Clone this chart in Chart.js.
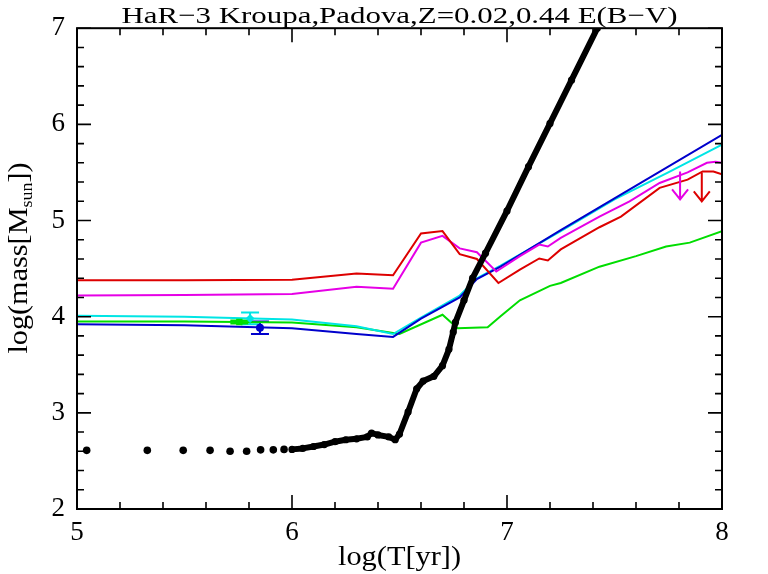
<!DOCTYPE html>
<html>
<head>
<meta charset="utf-8">
<script src="https://cdn.jsdelivr.net/npm/chart.js@4.4.1/dist/chart.umd.min.js"></script>
<style>
html,body{margin:0;padding:0;background:#fff;}
#wrap{width:768px;height:574px;position:relative;}
</style>
</head>
<body>
<div id="wrap"><canvas id="c" width="768" height="574"></canvas></div>
<script>
// ---------- data ----------
const titleText = "HaR\u22123 Kroupa,Padova,Z=0.02,0.44 E(B\u2212V)";
const xLabelText = "log(T[yr])";
const yLabelMain = "log(mass[M";
const yLabelSub = "sun";
const yLabelEnd = "])";

const xMajorTicks = [5, 6, 7, 8];
const xMinorTicks = [5.2, 5.4, 5.6, 5.8, 6.2, 6.4, 6.6, 6.8, 7.2, 7.4, 7.6, 7.8];
const yMajorTicks = [2, 3, 4, 5, 6, 7];
const yMinorTicks = [2.2, 2.4, 2.6, 2.8, 3.2, 3.4, 3.6, 3.8, 4.2, 4.4, 4.6, 4.8, 5.2, 5.4, 5.6, 5.8, 6.2, 6.4, 6.6, 6.8];

const redX = [5.0, 5.5, 6.0, 6.3, 6.47, 6.6, 6.7, 6.78, 6.86, 6.96, 7.06, 7.15, 7.19, 7.25, 7.43, 7.53, 7.71, 7.84, 7.91, 7.96, 8.0];
const redY = [4.38, 4.38, 4.385, 4.45, 4.43, 4.865, 4.89, 4.65, 4.60, 4.35, 4.49, 4.605, 4.585, 4.70, 4.93, 5.04, 5.34, 5.425, 5.51, 5.51, 5.48];

const magX = [5.0, 5.5, 6.0, 6.3, 6.47, 6.6, 6.7, 6.78, 6.86, 6.95, 7.06, 7.15, 7.19, 7.25, 7.43, 7.57, 7.71, 7.84, 7.93, 7.97, 8.0];
const magY = [4.22, 4.225, 4.235, 4.31, 4.29, 4.77, 4.84, 4.71, 4.67, 4.47, 4.63, 4.75, 4.73, 4.82, 5.04, 5.20, 5.39, 5.50, 5.60, 5.61, 5.60];

const blueX = [5.0, 5.5, 6.0, 6.3, 6.47, 6.6, 6.78, 6.86, 6.97, 7.25, 7.5, 8.0];
const blueY = [3.92, 3.91, 3.88, 3.82, 3.79, 3.98, 4.20, 4.39, 4.52, 4.90, 5.23, 5.89];

const cyanX = [5.0, 5.5, 6.0, 6.3, 6.47, 6.6, 6.78, 6.86, 6.97, 7.25, 7.5, 7.75, 8.0];
const cyanY = [4.01, 4.0, 3.97, 3.90, 3.82, 3.99, 4.22, 4.40, 4.53, 4.89, 5.22, 5.50, 5.79];

const greenX = [5.0, 5.5, 6.0, 6.3, 6.5, 6.7, 6.77, 6.91, 6.97, 7.06, 7.2, 7.25, 7.43, 7.6, 7.74, 7.85, 8.0];
const greenY = [3.95, 3.95, 3.94, 3.89, 3.82, 4.02, 3.88, 3.89, 4.005, 4.17, 4.32, 4.35, 4.52, 4.63, 4.73, 4.77, 4.89];

const sparseDotsX = [5.045, 5.327, 5.494, 5.619, 5.712, 5.789, 5.854, 5.913, 5.963];
const sparseDotsY = [2.61, 2.61, 2.61, 2.61, 2.60, 2.60, 2.615, 2.615, 2.62];

const trackX = [6.0, 6.05, 6.1, 6.15, 6.2, 6.25, 6.3, 6.35, 6.37, 6.4, 6.45, 6.48, 6.5, 6.54, 6.58, 6.61, 6.66, 6.70, 6.73, 6.75, 6.76, 6.8, 6.84, 6.9, 7.0, 7.1, 7.2, 7.3, 7.42, 7.45];
const trackY = [2.62, 2.63, 2.65, 2.67, 2.70, 2.72, 2.73, 2.75, 2.79, 2.77, 2.75, 2.72, 2.78, 3.01, 3.25, 3.33, 3.38, 3.49, 3.66, 3.84, 3.94, 4.17, 4.40, 4.66, 5.10, 5.56, 6.01, 6.46, 7.0, 7.13];

const errX = [5.851, 5.805, 5.755];
const errY = [3.885, 3.98, 3.945];
const errLo = [3.82, 3.92, 3.93];
const errHi = [3.95, 4.044, 3.96];
const errColors = ['#0000cc', '#00e5e5', '#00dd00'];
const errShapes = ['circle', 'rectRot', 'rect'];

const arrowX = [7.805, 7.906];
const arrowTop = [5.51, 5.50];
const arrowBottom = [5.22, 5.20];
const arrowColors = ['#e600e6', '#dd0000'];

// ---------- helpers ----------
function pts(xs, ys) { return xs.map((x, i) => ({x: x, y: ys[i]})); }

function lineDs(xs, ys, color, order) {
  return {type: 'line', data: pts(xs, ys), borderColor: color, backgroundColor: color,
    borderWidth: 2, pointRadius: 0, tension: 0, fill: false, order: order};
}

const datasets = [];
datasets.push({type: 'line', data: pts(trackX, trackY), borderColor: '#000', backgroundColor: '#000',
  borderWidth: 6, pointRadius: 3.6, pointBorderWidth: 0, tension: 0, borderCapStyle: 'round', borderJoinStyle: 'round', clip: 0, order: 1});
datasets.push({type: 'scatter', data: pts(sparseDotsX, sparseDotsY), borderColor: '#000', backgroundColor: '#000',
  pointRadius: 3.8, pointBorderWidth: 0, order: 1});
errX.forEach((x, i) => {
  datasets.push({type: 'scatter', data: [{x: x, y: errY[i]}], backgroundColor: errColors[i], borderColor: errColors[i],
    pointStyle: errShapes[i], pointRadius: i === 0 ? 4 : 4.5, pointBorderWidth: 0, order: 2});
});
datasets.push(lineDs(greenX, greenY, '#00dd00', 7));
datasets.push(lineDs(cyanX, cyanY, '#00e5e5', 6));
datasets.push(lineDs(blueX, blueY, '#0000cc', 5));
datasets.push(lineDs(magX, magY, '#e600e6', 4));
datasets.push(lineDs(redX, redY, '#dd0000', 3));

function stretchText(ctx, text, x, y, targetW, font, align) {
  ctx.save();
  ctx.font = font;
  const w = ctx.measureText(text).width;
  const s = targetW / w;
  ctx.translate(x, y);
  ctx.scale(s, 1);
  ctx.textAlign = align || 'center';
  ctx.textBaseline = 'alphabetic';
  ctx.fillText(text, 0, 0);
  ctx.restore();
}

const decorPlugin = {
  id: 'decor',
  beforeDatasetsDraw(chart) {
    const ctx = chart.ctx, xs = chart.scales.x, ys = chart.scales.y;
    ctx.save();
    ctx.lineWidth = 2;
    errX.forEach((x, i) => {
      const px = xs.getPixelForValue(x);
      const lo = ys.getPixelForValue(errLo[i]), hi = ys.getPixelForValue(errHi[i]);
      ctx.strokeStyle = errColors[i];
      ctx.beginPath();
      ctx.moveTo(px, lo); ctx.lineTo(px, hi);
      ctx.moveTo(px - 9, lo); ctx.lineTo(px + 9, lo);
      ctx.moveTo(px - 9, hi); ctx.lineTo(px + 9, hi);
      ctx.stroke();
    });
    ctx.restore();
  },
  afterDatasetsDraw(chart) {
    const ctx = chart.ctx, xs = chart.scales.x, ys = chart.scales.y;
    const a = chart.chartArea;
    ctx.save();
    ctx.lineWidth = 2;
    arrowX.forEach((x, i) => {
      const px = xs.getPixelForValue(x);
      const t = ys.getPixelForValue(arrowTop[i]), b = ys.getPixelForValue(arrowBottom[i]);
      ctx.strokeStyle = arrowColors[i];
      ctx.beginPath();
      ctx.moveTo(px, t); ctx.lineTo(px, b);
      ctx.moveTo(px - 8, b - 10); ctx.lineTo(px, b); ctx.lineTo(px + 8, b - 10);
      ctx.stroke();
    });
    ctx.restore();
    ctx.save();
    ctx.strokeStyle = '#000';
    ctx.lineWidth = 2;
    ctx.strokeRect(a.left, a.top, a.right - a.left, a.bottom - a.top);
    ctx.lineWidth = 1.6;
    ctx.beginPath();
    const tickX = (v, len) => {
      const p = xs.getPixelForValue(v);
      ctx.moveTo(p, a.bottom); ctx.lineTo(p, a.bottom - len);
      ctx.moveTo(p, a.top); ctx.lineTo(p, a.top + len);
    };
    const tickY = (v, len) => {
      const p = ys.getPixelForValue(v);
      ctx.moveTo(a.left, p); ctx.lineTo(a.left + len, p);
      ctx.moveTo(a.right, p); ctx.lineTo(a.right - len, p);
    };
    xMajorTicks.forEach(v => tickX(v, 14));
    xMinorTicks.forEach(v => tickX(v, 7));
    yMajorTicks.forEach(v => tickY(v, 14));
    yMinorTicks.forEach(v => tickY(v, 7));
    ctx.stroke();
    ctx.restore();
    ctx.save();
    ctx.fillStyle = '#000';
    stretchText(ctx, titleText, (a.left + a.right) / 2, 23, 556, '24px "Liberation Serif"', 'center');
    stretchText(ctx, xLabelText, (a.left + a.right) / 2, 565, 123, '27px "Liberation Serif"', 'center');
    ctx.translate(27, 258);
    ctx.rotate(-Math.PI / 2);
    const sx = 1.12;
    ctx.font = '27px "Liberation Serif"';
    const w1 = ctx.measureText(yLabelMain).width * sx;
    ctx.font = '16px "Liberation Serif"';
    const w2 = ctx.measureText(yLabelSub).width * sx;
    ctx.font = '27px "Liberation Serif"';
    const w3 = ctx.measureText(yLabelEnd).width * sx;
    const total = w1 + w2 + w3;
    let cx = -total / 2;
    ctx.save(); ctx.translate(cx, 0); ctx.scale(sx, 1);
    ctx.textBaseline = 'alphabetic'; ctx.textAlign = 'left';
    ctx.fillText(yLabelMain, 0, 0); ctx.restore();
    cx += w1;
    ctx.save(); ctx.translate(cx, 5); ctx.scale(sx, 1);
    ctx.font = '16px "Liberation Serif"'; ctx.textAlign = 'left';
    ctx.fillText(yLabelSub, 0, 0); ctx.restore();
    cx += w2;
    ctx.save(); ctx.translate(cx, 0); ctx.scale(sx, 1);
    ctx.font = '27px "Liberation Serif"'; ctx.textAlign = 'left';
    ctx.fillText(yLabelEnd, 0, 0); ctx.restore();
    ctx.restore();
  }
};

new Chart(document.getElementById('c'), {
  type: 'scatter',
  data: {datasets: datasets},
  options: {
    responsive: false,
    animation: false,
    devicePixelRatio: 1,
    layout: {padding: {left: 0, right: 46, top: 28, bottom: 0}},
    plugins: {legend: {display: false}, title: {display: false}, tooltip: {enabled: false}},
    scales: {
      x: {
        type: 'linear', min: 5, max: 8,
        afterFit: s => { s.height = 65; },
        afterBuildTicks: s => { s.ticks = xMajorTicks.map(v => ({value: v})); },
        grid: {display: false, drawTicks: false},
        border: {display: false},
        ticks: {padding: 8, color: '#000', font: {family: 'Liberation Serif', size: 27}, maxRotation: 0}
      },
      y: {
        type: 'linear', min: 2, max: 7,
        afterFit: s => { s.width = 77; },
        afterBuildTicks: s => { s.ticks = yMajorTicks.map(v => ({value: v})); },
        grid: {display: false, drawTicks: false},
        border: {display: false},
        ticks: {padding: 12, color: '#000', font: {family: 'Liberation Serif', size: 27}}
      }
    }
  },
  plugins: [decorPlugin]
});
</script>
</body>
</html>
